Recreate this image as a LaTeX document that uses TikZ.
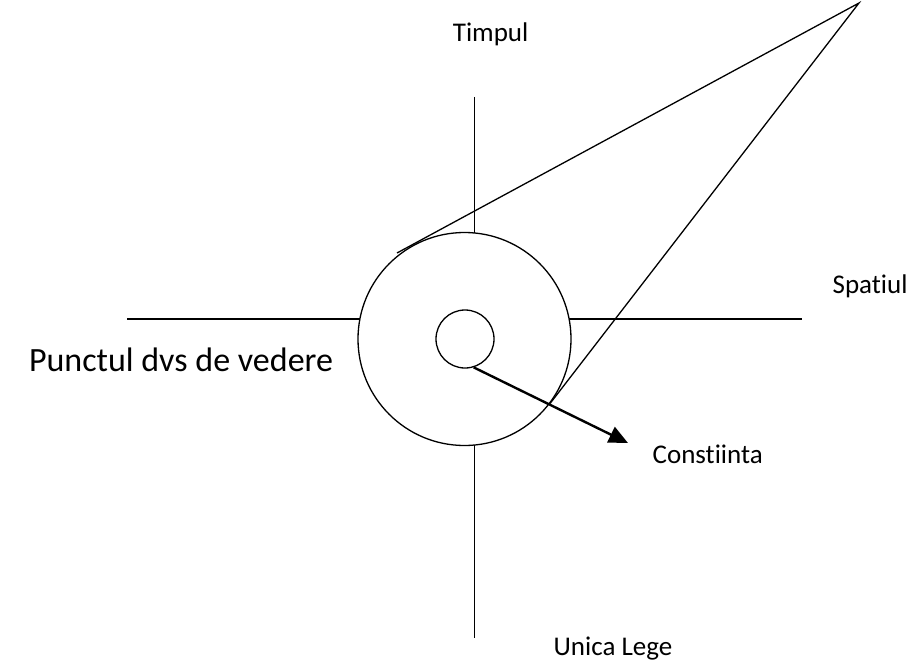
\documentclass[tikz,border=0pt]{standalone}
\usepackage{fontspec}
\setmainfont{Carlito}[Ligatures=NoCommon]
\usetikzlibrary{arrows.meta}

\begin{document}
\begin{tikzpicture}
  [x=1pt, y=-1pt, line width=1.3pt,
   word/.style={font=\fontsize{27}{32}\selectfont, inner sep=0pt},
   bigword/.style={font=\fontsize{34}{40}\selectfont}]
  \useasboundingbox (0, 0) rectangle (911, 661);
  % the two circles
  \node[draw, circle, minimum size=213pt, inner sep=0pt] (outer) at (464.5, 339) {};
  \node[draw, circle, minimum size=58pt, inner sep=0pt] (inner) at (465, 339) {};
  % axes
  \coordinate (left) at (127, 319);
  \coordinate (leftin) at (360, 319);
  \coordinate (rightin) at (569, 319);
  \coordinate (right) at (802, 319);
  \coordinate (top) at (474.5, 97);
  \coordinate (topin) at (474.5, 233);
  \coordinate (botin) at (474.5, 445);
  \coordinate (bot) at (474.5, 638);
  \draw (left) -- (leftin);
  \draw (rightin) -- (right);
  \draw (top) -- (topin);
  \draw (botin) -- (bot);
  % cone of view
  \coordinate (apex) at (859, 3);
  \coordinate (tan) at (397, 253);
  \draw (tan) -- (apex) -- (outer.-37.6);
  % arrow
  \coordinate (tip) at (628, 443);
  \draw[-{Triangle[length=19pt, width=17pt]}, line width=2.4pt] (inner.-73) -- (tip);
  % labels
  \node[word, anchor=base east] (timp) at (529, 42) {Timpul};
  \node[word, anchor=base west] (spat) at (832, 293) {Spatiul};
  \node[bigword] (punct) at (181, 360) {Punctul dvs de vedere};
  \node[word, anchor=base west] (const) at (652, 463) {Constiinta};
  \node[word, anchor=base west] (lege) at (553, 655) {Unica Lege};
\end{tikzpicture}
\end{document}
